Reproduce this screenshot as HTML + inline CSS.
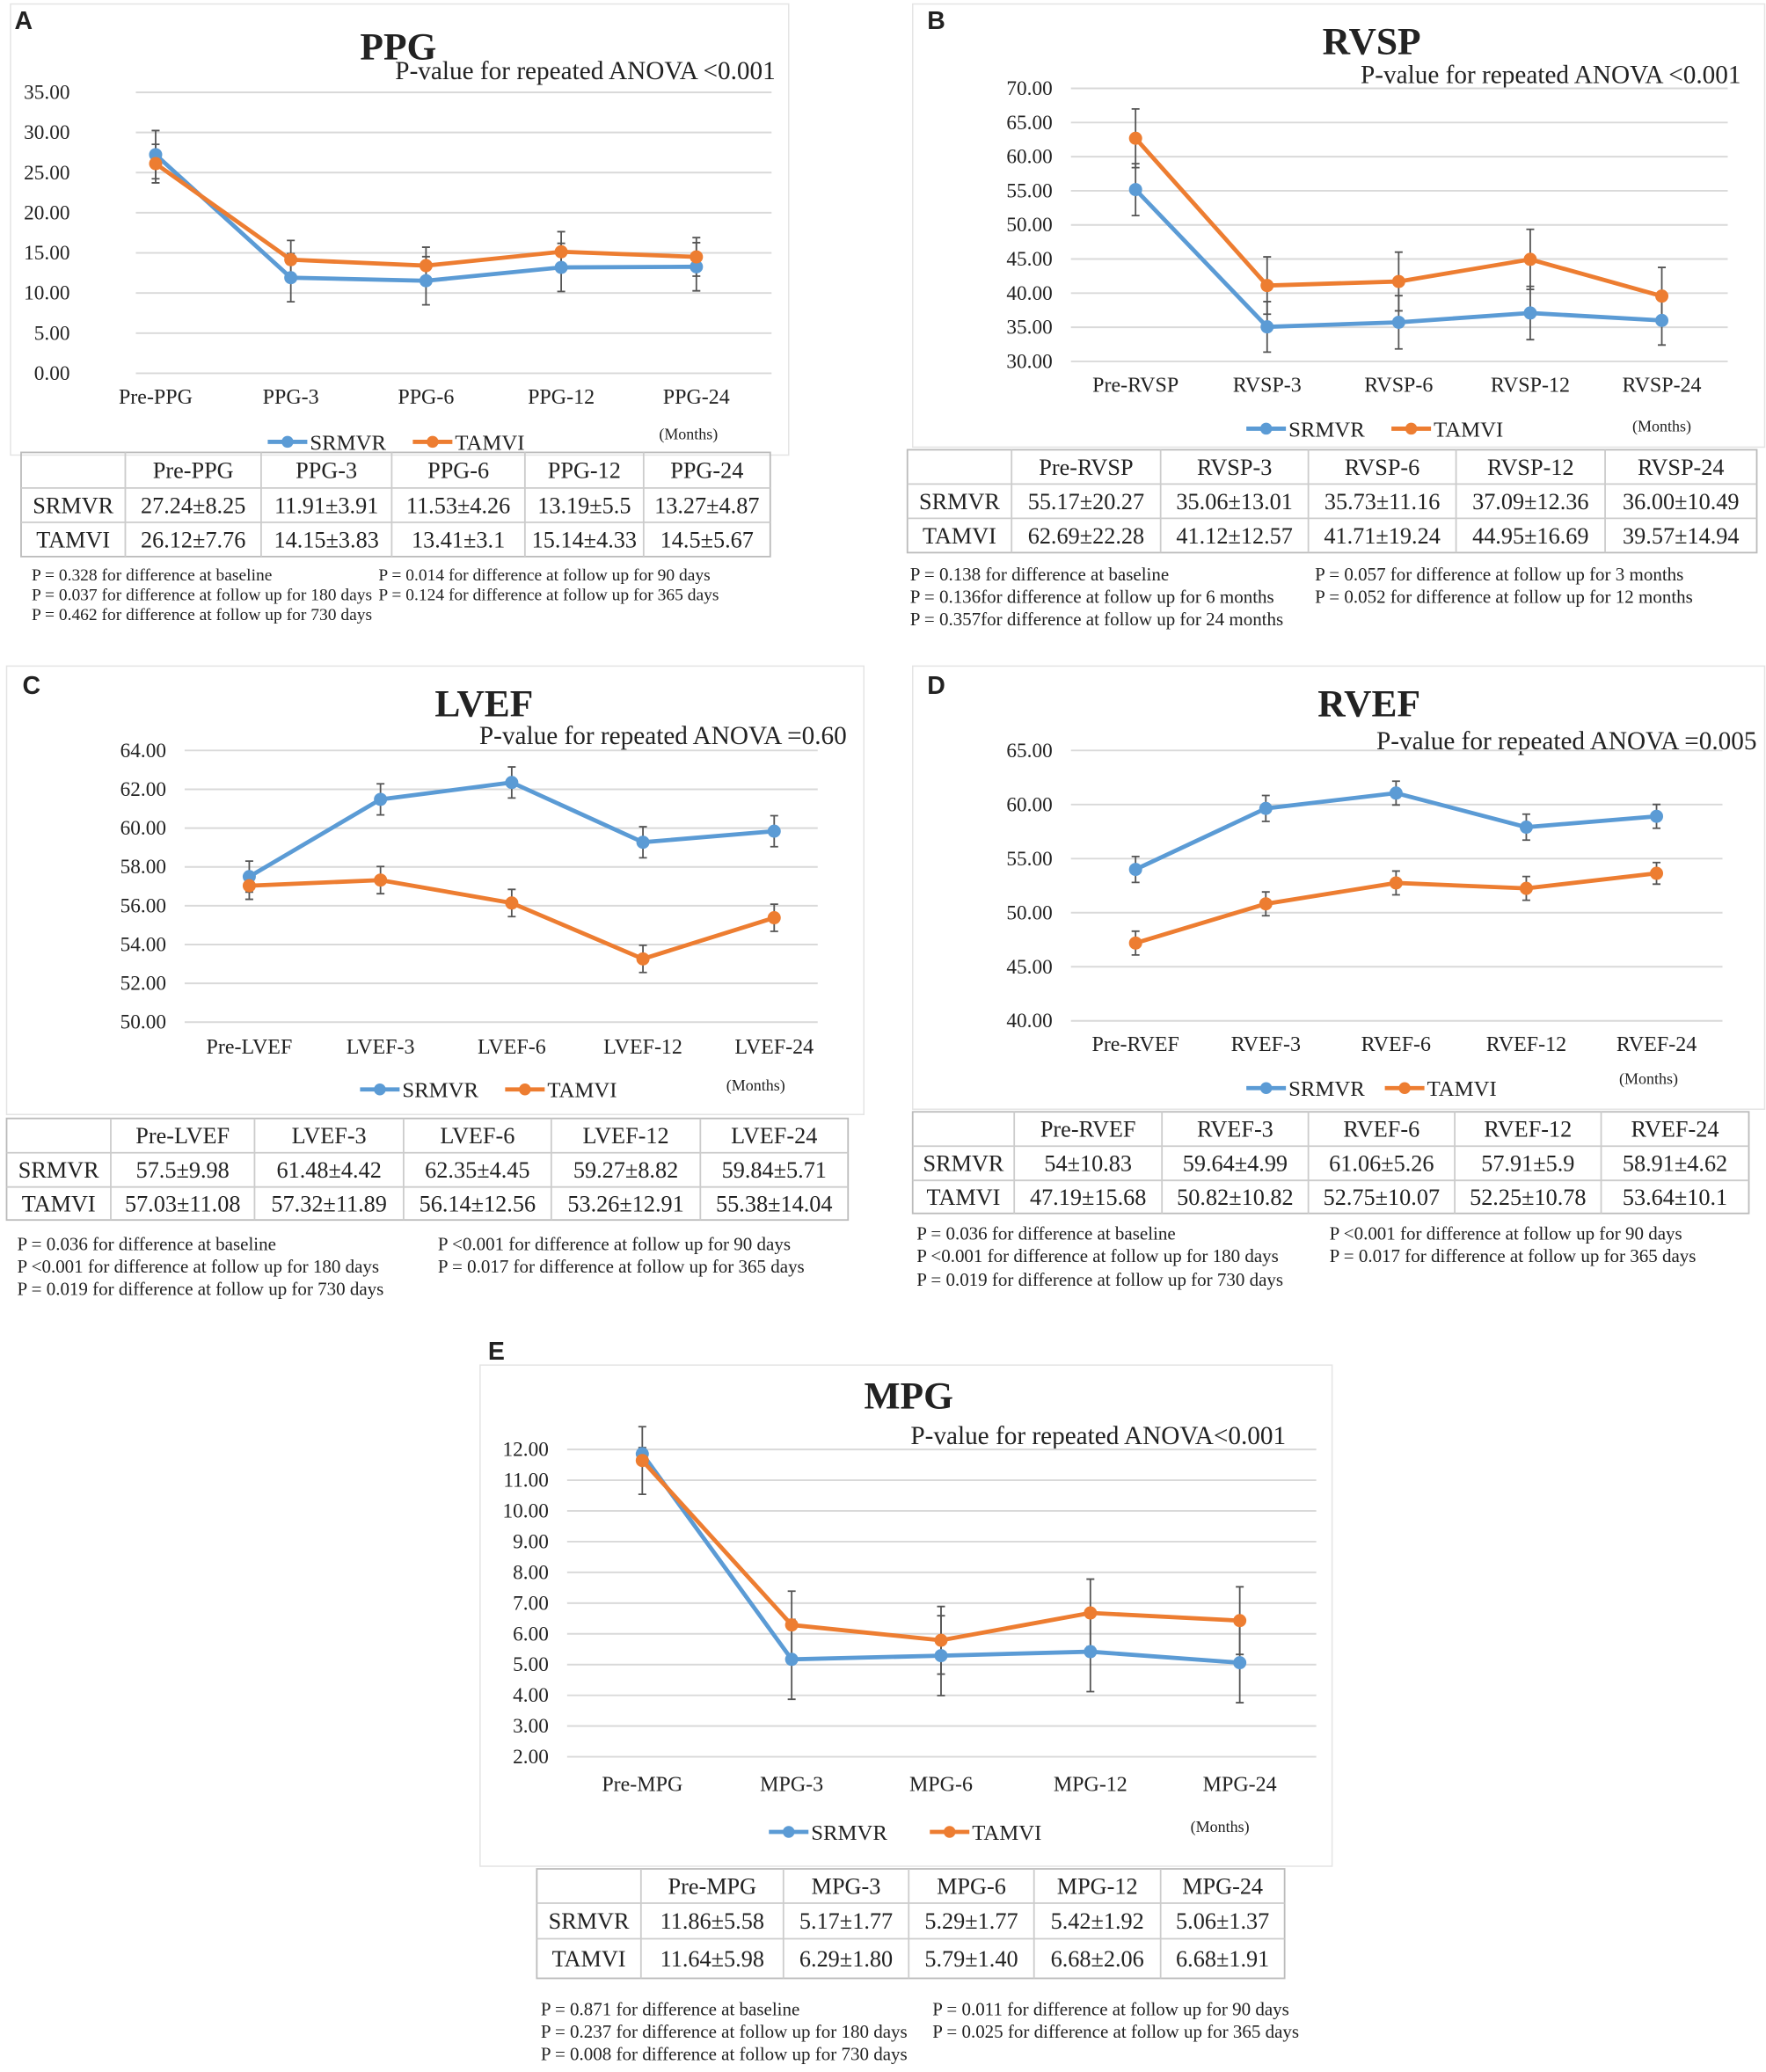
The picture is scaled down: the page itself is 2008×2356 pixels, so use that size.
<!DOCTYPE html>
<html><head><meta charset="utf-8"><style>
html,body{margin:0;padding:0;background:#fff;}
svg{display:block;}
text{font-family:"Liberation Serif",serif;fill:#222;}
</style></head><body>
<svg id="fig" width="2008" height="2356" viewBox="0 0 1339 1571" xmlns="http://www.w3.org/2000/svg"></svg>
<script>
// ---- data ----
const catsA=["Pre-PPG","PPG-3","PPG-6","PPG-12","PPG-24"];
const srA=[27.24,11.91,11.53,13.19,13.27];
const taA=[26.12,14.15,13.41,15.14,14.5];
const srErrA=[3,3,3,3,3];
const taErrA=[2.4,2.4,2.3,2.5,2.4];
const ticksA=["0.00","5.00","10.00","15.00","20.00","25.00","30.00","35.00"];
const tabSrA=["27.24±8.25","11.91±3.91","11.53±4.26","13.19±5.5","13.27±4.87"];
const tabTaA=["26.12±7.76","14.15±3.83","13.41±3.1","15.14±4.33","14.5±5.67"];

const catsB=["Pre-RVSP","RVSP-3","RVSP-6","RVSP-12","RVSP-24"];
const srB=[55.17,35.06,35.73,37.09,36.00];
const taB=[62.69,41.12,41.71,44.95,39.57];
const srErrB=[3.8,3.7,3.9,3.9,3.6];
const taErrB=[4.3,4.2,4.3,4.4,4.2];
const ticksB=["30.00","35.00","40.00","45.00","50.00","55.00","60.00","65.00","70.00"];
const tabSrB=["55.17±20.27","35.06±13.01","35.73±11.16","37.09±12.36","36.00±10.49"];
const tabTaB=["62.69±22.28","41.12±12.57","41.71±19.24","44.95±16.69","39.57±14.94"];

const catsC=["Pre-LVEF","LVEF-3","LVEF-6","LVEF-12","LVEF-24"];
const srC=[57.5,61.48,62.35,59.27,59.84];
const taC=[57.03,57.32,56.14,53.26,55.38];
const srErrC=[0.8,0.8,0.8,0.8,0.8];
const taErrC=[0.7,0.7,0.7,0.7,0.7];
const ticksC=["50.00","52.00","54.00","56.00","58.00","60.00","62.00","64.00"];
const tabSrC=["57.5±9.98","61.48±4.42","62.35±4.45","59.27±8.82","59.84±5.71"];
const tabTaC=["57.03±11.08","57.32±11.89","56.14±12.56","53.26±12.91","55.38±14.04"];

const catsD=["Pre-RVEF","RVEF-3","RVEF-6","RVEF-12","RVEF-24"];
const srD=[54,59.64,61.06,57.91,58.91];
const taD=[47.19,50.82,52.75,52.25,53.64];
const srErrD=[1.2,1.2,1.1,1.2,1.1];
const taErrD=[1.1,1.1,1.1,1.1,1.0];
const ticksD=["40.00","45.00","50.00","55.00","60.00","65.00"];
const tabSrD=["54±10.83","59.64±4.99","61.06±5.26","57.91±5.9","58.91±4.62"];
const tabTaD=["47.19±15.68","50.82±10.82","52.75±10.07","52.25±10.78","53.64±10.1"];

const catsE=["Pre-MPG","MPG-3","MPG-6","MPG-12","MPG-24"];
const srE=[11.86,5.17,5.29,5.42,5.06];
const taE=[11.64,6.29,5.79,6.68,6.43];
const srErrE=[0.2,1.3,1.3,1.3,1.3];
const taErrE=[1.1,1.1,1.1,1.1,1.1];
const ticksE=["2.00","3.00","4.00","5.00","6.00","7.00","8.00","9.00","10.00","11.00","12.00"];
const tabSrE=["11.86±5.58","5.17±1.77","5.29±1.77","5.42±1.92","5.06±1.37"];
const tabTaE=["11.64±5.98","6.29±1.80","5.79±1.40","6.68±2.06","6.68±1.91"];

const NS="http://www.w3.org/2000/svg";
const svg=document.getElementById('fig');
function mk(tag,attrs,parent,txt){const e=document.createElementNS(NS,tag);for(const k in attrs)e.setAttribute(k,attrs[k]);if(txt!==undefined)e.textContent=txt;(parent||svg).appendChild(e);return e;}
const BLUE="#5b9bd5",ORANGE="#ed7d31";

function panel(p){
  const g=mk('g',{});
  
  
  const box=mk('rect',{x:p.box[0],y:p.box[1],width:p.box[2],height:p.box[3],fill:'none',stroke:'#e4e4e4','stroke-width':1},g);
  
  const lab=mk('text',{x:p.lab[0],y:p.lab[1],'font-size':19,'font-weight':'bold',style:'font-family:"Liberation Sans",sans-serif'},g,p.id);
  
  const t=mk('text',{x:p.title[0],y:p.title[1],'font-size':29,'font-weight':'bold','text-anchor':'middle'},g,p.name);
  
  const st=mk('text',{x:p.sub[0],y:p.sub[1],'font-size':19.5,'text-anchor':'end'},g,p.subText);
  
  const ymin=parseFloat(p.ticks[0]),ymax=parseFloat(p.ticks[p.ticks.length-1]);
  const Y=v=>p.yb-(v-ymin)/(ymax-ymin)*(p.yb-p.yt);
  const X=i=>p.cx0+i*p.dx;
  p.ticks.forEach(tk=>{const v=parseFloat(tk);
    const l=mk('line',{x1:p.gx[0],x2:p.gx[1],y1:Y(v),y2:Y(v),stroke:'#d9d9d9','stroke-width':1.3},g);
    
    const tt=mk('text',{x:p.yl,y:Y(v)+5,'font-size':15.5,'text-anchor':'end'},g,tk);
    });
  p.cats.forEach((c,i)=>{const tt=mk('text',{x:X(i),y:p.catY,'font-size':16,'text-anchor':'middle'},g,c);
    });
  [[p.ta,p.taErr,ORANGE,'tamvi'],[p.sr,p.srErr,BLUE,'srmvr']].forEach(([vals,errs,col,nm])=>{
    vals.forEach((v,i)=>{const e=errs[i];
      const eb=mk('path',{d:`M${X(i)},${Y(v+e)}V${Y(v-e)}M${X(i)-3},${Y(v+e)}h6M${X(i)-3},${Y(v-e)}h6`,stroke:'#555','stroke-width':1.2,fill:'none'},g);
      });
  });
  [[p.sr,BLUE,'srmvr'],[p.ta,ORANGE,'tamvi']].forEach(([vals,col,nm])=>{
    const pl=mk('polyline',{points:vals.map((v,i)=>X(i)+','+Y(v)).join(' '),fill:'none',stroke:col,'stroke-width':3.2},g);
    
    vals.forEach((v,i)=>{const c=mk('circle',{cx:X(i),cy:Y(v),r:5,fill:col},g);
      });
  });
  [[p.leg[0],BLUE,'SRMVR'],[p.leg[1],ORANGE,'TAMVI']].forEach(([lx,col,nm])=>{
    const lg=mk('g',{},g);
    mk('line',{x1:lx,x2:lx+30,y1:p.legY,y2:p.legY,stroke:col,'stroke-width':3.2},lg);
    mk('circle',{cx:lx+15,cy:p.legY,r:4.5,fill:col},lg);
    mk('text',{x:lx+32,y:p.legY+6,'font-size':16.5},lg,nm);
  });
  const mo=mk('text',{x:p.months[0],y:p.months[1],'font-size':12,'text-anchor':'middle'},g,'(Months)');
  
  const tb=mk('g',{},g);
  const cols=p.tcols,rows=p.trows;
  mk('rect',{x:cols[0],y:rows[0],width:cols[cols.length-1]-cols[0],height:rows[3]-rows[0],fill:'none',stroke:'#bbb','stroke-width':1.2},tb);
  cols.slice(1,-1).forEach(cx=>mk('line',{x1:cx,x2:cx,y1:rows[0],y2:rows[3],stroke:'#ccc','stroke-width':1.2},tb));
  rows.slice(1,-1).forEach(ry=>mk('line',{x1:cols[0],x2:cols[cols.length-1],y1:ry,y2:ry,stroke:'#ccc','stroke-width':1.2},tb));
  const rowData=[["",...p.cats],["SRMVR",...p.tabSr],["TAMVI",...p.tabTa]];
  rowData.forEach((r,ri)=>r.forEach((c,ci)=>{
    const w=cols[ci+1]-cols[ci];
    const tt=mk('text',{x:(cols[ci]+cols[ci+1])/2,y:(rows[ri]+rows[ri+1])/2+6,'font-size':17.5,'text-anchor':'middle'},tb,c);
    
    if(c && c.length*8.6>w-4){tt.setAttribute('textLength',w-5);tt.setAttribute('lengthAdjust','spacingAndGlyphs');}
  }));
  p.notes.forEach(([x,y,s])=>{const tt=mk('text',{x:x,y:y,'font-size':p.nfs},g,s);
    });
}

panel({id:'A',name:'PPG',subText:'P-value for repeated ANOVA <0.001',box:[8,3,590,342],lab:[11,22],title:[302,45],sub:[588,60],nfs:13,
 ticks:ticksA,yt:70,yb:283,yl:53,gx:[103,585],cx0:118,dx:102.5,catY:306,cats:catsA,sr:srA,ta:taA,srErr:srErrA,taErr:taErrA,
 leg:[203,313],legY:335,months:[522,333],tcols:[16,95,198,297,398,488,584],trows:[343,370,396,422],tabSr:tabSrA,tabTa:tabTaA,
 notes:[[24,440,'P = 0.328 for difference at baseline'],[24,455,'P = 0.037 for difference at follow up for 180 days'],[24,470,'P = 0.462 for difference at follow up for 730 days'],[287,440,'P = 0.014 for difference at follow up for 90 days'],[287,455,'P = 0.124 for difference at follow up for 365 days']]});

panel({id:'B',name:'RVSP',subText:'P-value for repeated ANOVA <0.001',box:[692,3,646,336],lab:[703,22],title:[1040,41],sub:[1320,63],nfs:14,
 ticks:ticksB,yt:67,yb:274,yl:798,gx:[812,1310],cx0:861,dx:99.75,catY:297,cats:catsB,sr:srB,ta:taB,srErr:srErrB,taErr:taErrB,
 leg:[945,1055],legY:325,months:[1260,327],tcols:[688,767,880,992,1104,1217,1332],trows:[341,367,393,419],tabSr:tabSrB,tabTa:tabTaB,
 notes:[[690,440,'P = 0.138 for difference at baseline'],[690,457,'P = 0.136for difference at follow up for 6 months'],[690,474,'P = 0.357for difference at follow up for 24 months'],[997,440,'P = 0.057 for difference at follow up for 3 months'],[997,457,'P = 0.052 for difference at follow up for 12 months']]});

panel({id:'C',name:'LVEF',subText:'P-value for repeated ANOVA =0.60',box:[5,505,650,340],lab:[17,526],title:[367,543],sub:[642,564],nfs:14,
 ticks:ticksC,yt:569,yb:775,yl:126,gx:[140,620],cx0:189,dx:99.5,catY:799,cats:catsC,sr:srC,ta:taC,srErr:srErrC,taErr:taErrC,
 leg:[273,383],legY:826,months:[573,827],tcols:[5,84,193,306,418,531,643],trows:[848,874,900,925],tabSr:tabSrC,tabTa:tabTaC,
 notes:[[13,948,'P = 0.036 for difference at baseline'],[13,965,'P <0.001 for difference at follow up for 180 days'],[13,982,'P = 0.019 for difference at follow up for 730 days'],[332,948,'P <0.001 for difference at follow up for 90 days'],[332,965,'P = 0.017 for difference at follow up for 365 days']]});

panel({id:'D',name:'RVEF',subText:'P-value for repeated ANOVA =0.005',box:[692,505,646,336],lab:[703,526],title:[1038,543],sub:[1332,568],nfs:14,
 ticks:ticksD,yt:569,yb:774,yl:798,gx:[812,1306],cx0:861,dx:98.75,catY:797,cats:catsD,sr:srD,ta:taD,srErr:srErrD,taErr:taErrD,
 leg:[945,1050],legY:825,months:[1250,822],tcols:[692,769,881,992,1103,1214,1326],trows:[843,869,895,920],tabSr:tabSrD,tabTa:tabTaD,
 notes:[[695,940,'P = 0.036 for difference at baseline'],[695,957,'P <0.001 for difference at follow up for 180 days'],[695,975,'P = 0.019 for difference at follow up for 730 days'],[1008,940,'P <0.001 for difference at follow up for  90 days'],[1008,957,'P = 0.017 for difference at follow up for 365 days']]});

panel({id:'E',name:'MPG',subText:'P-value  for repeated ANOVA<0.001',box:[364,1035,646,380],lab:[370,1031],title:[689,1068],sub:[975,1095],nfs:14,
 ticks:ticksE,yt:1099,yb:1332,yl:416,gx:[430,998],cx0:487,dx:113.25,catY:1358,cats:catsE,sr:srE,ta:taE,srErr:srErrE,taErr:taErrE,
 leg:[583,705],legY:1389,months:[925,1389],tcols:[407,486,594,689,784,880,974],trows:[1417,1443,1470,1500],tabSr:tabSrE,tabTa:tabTaE,
 notes:[[410,1528,'P = 0.871 for difference at baseline'],[410,1545,'P = 0.237 for difference at follow up for 180 days'],[410,1562,'P = 0.008 for difference at follow up for 730 days'],[707,1528,'P = 0.011 for difference at follow up for 90 days'],[707,1545,'P = 0.025 for difference at follow up for 365 days']]});
</script>
</body></html>
